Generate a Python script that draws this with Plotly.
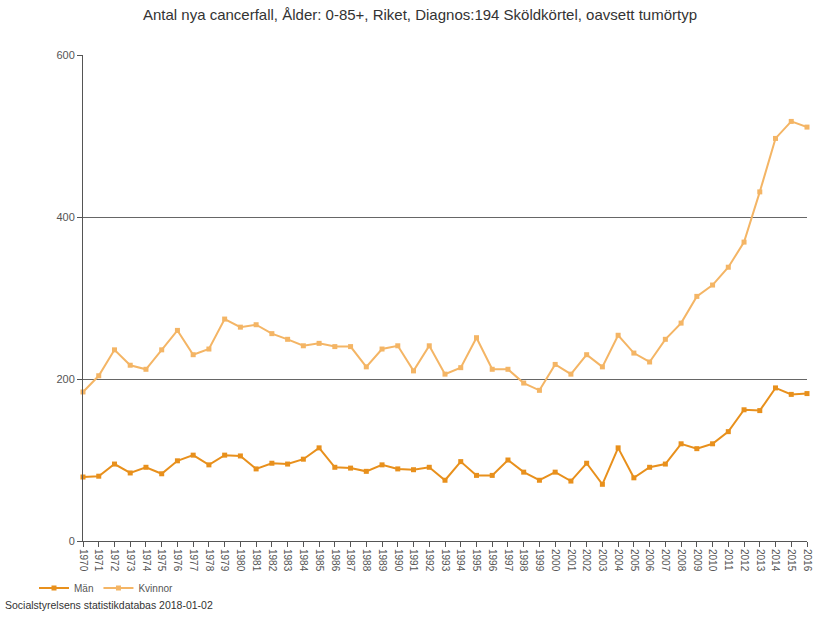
import plotly.graph_objects as go

years = list(range(1970, 2017))
man = [79, 80, 95, 84, 91, 83, 99, 106, 94, 106, 105, 89, 96, 95, 101, 115,
       91, 90, 86, 94, 89, 88, 91, 75, 98, 81, 81, 100, 85, 75, 85, 74, 96, 70,
       115, 78, 91, 95, 120, 114, 120, 135, 162, 161, 189, 181, 182]
kvinnor = [184, 204, 236, 217, 212, 236, 260, 230, 237, 274, 264, 267, 256, 249,
           241, 244, 240, 240, 215, 237, 241, 210, 241, 206, 214, 251, 212, 212,
           195, 186, 218, 206, 230, 215, 254, 232, 221, 249, 269, 302, 316, 338,
           369, 431, 497, 518, 511]
y_ticks = [0, 200, 400, 600]
title_text = "Antal nya cancerfall, Ålder: 0-85+, Riket, Diagnos:194 Sköldkörtel, oavsett tumörtyp"
footer_text = "Socialstyrelsens statistikdatabas 2018-01-02"

fig = go.Figure()
fig.add_trace(go.Scatter(
    x=years, y=man, name="Män", mode="lines+markers",
    line=dict(color="#E8901C", width=2),
    marker=dict(symbol="square", size=5, color="#E8901C"),
    cliponaxis=False,
))
fig.add_trace(go.Scatter(
    x=years, y=kvinnor, name="Kvinnor", mode="lines+markers",
    line=dict(color="#F4B565", width=2),
    marker=dict(symbol="square", size=5, color="#F4B565"),
    cliponaxis=False,
))

L, R, T, B = 83, 8, 55, 103
W, H = 815, 644
pw = W - L - R
ph = H - T - B

fig.update_layout(
    width=W, height=H,
    margin=dict(l=L, r=R, t=T, b=B, pad=0, autoexpand=False),
    paper_bgcolor="white", plot_bgcolor="white",
    font=dict(family="Liberation Sans, Arial, sans-serif", color="#555555"),
    title=dict(text=title_text, x=420 / W, xanchor="center", xref="container",
               y=1 - 15 / H, yanchor="middle", yref="container",
               font=dict(size=15, color="#333333")),
    showlegend=True,
    legend=dict(orientation="h", xref="container", yref="container",
                x=34 / W, xanchor="left", y=1 - 588 / H, yanchor="middle",
                font=dict(size=10, color="#555555"), itemwidth=30,
                bgcolor="rgba(0,0,0,0)", traceorder="normal"),
    xaxis=dict(range=[1970, 2016], tickmode="array", tickvals=years,
               ticktext=[str(y) for y in years], tickangle=90,
               tickfont=dict(size=10, color="#555555"),
               ticklabeloverflow="allow",
               ticks="outside", ticklen=5, tickcolor="#555555",
               showline=True, linecolor="#555555", linewidth=1,
               showgrid=False, zeroline=False, fixedrange=True),
    yaxis=dict(range=[0, 600], tickmode="array", tickvals=y_ticks,
               tickfont=dict(size=11, color="#555555"),
               ticks="outside", ticklen=5, tickcolor="#555555",
               showline=True, linecolor="#555555", linewidth=1,
               showgrid=True, gridcolor="#666666", gridwidth=1,
               zeroline=False, fixedrange=True),
    annotations=[dict(text=footer_text, xref="paper", yref="paper",
                      x=(3 - L) / pw, y=(H - B - 605) / ph,
                      xanchor="left", yanchor="middle", showarrow=False,
                      font=dict(size=10.5, color="#333333"))],
)

fig.write_html("out.html", config={"displayModeBar": False},
               post_script="document.body.style.margin='0';document.body.style.overflow='hidden';")
